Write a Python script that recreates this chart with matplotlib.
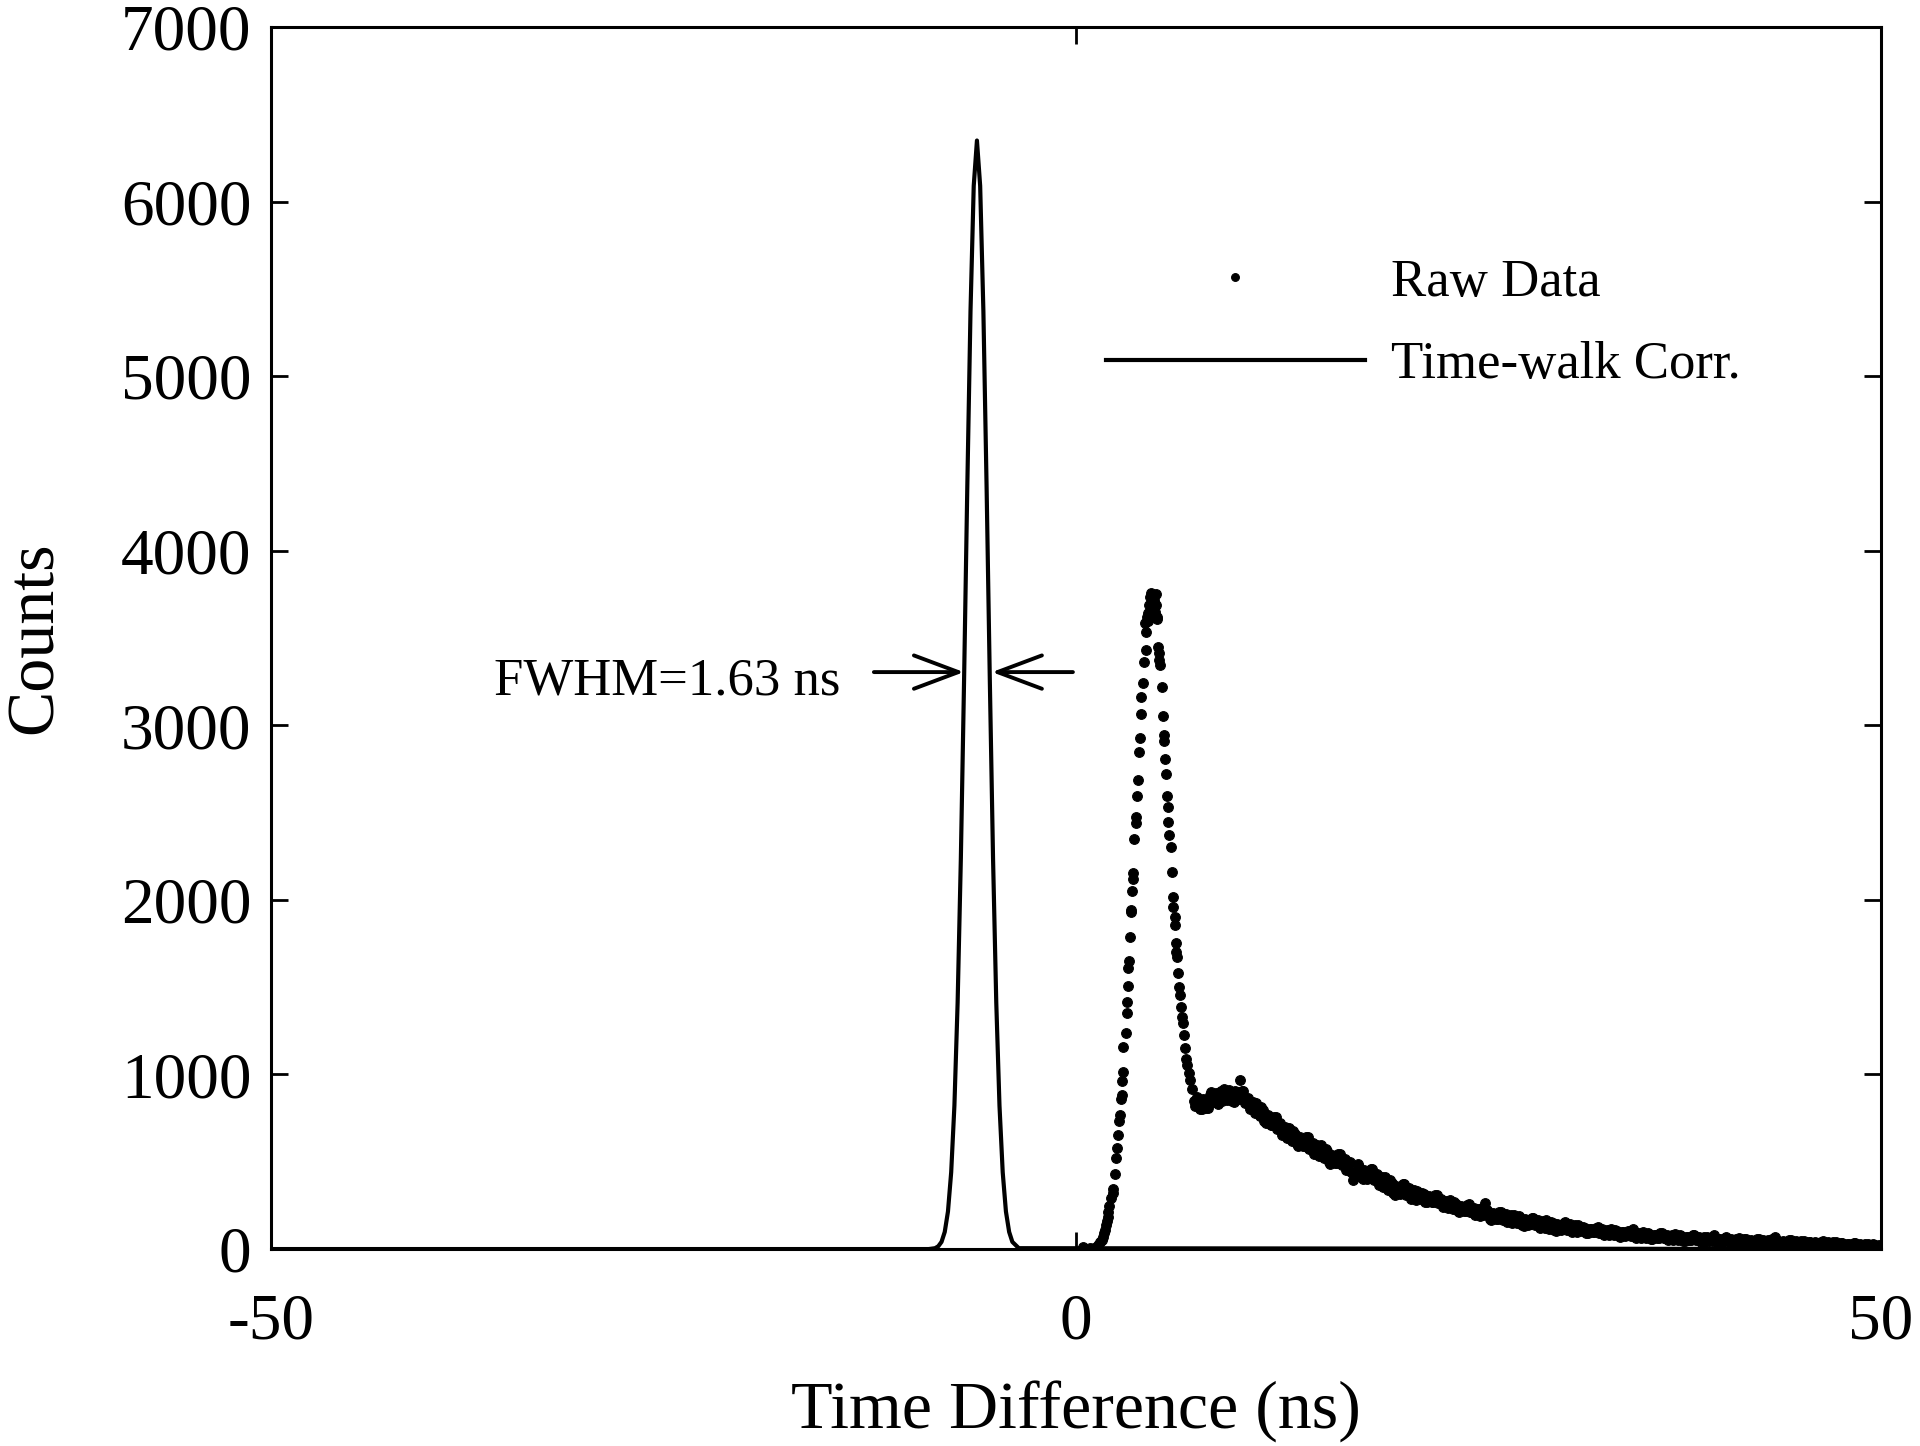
import numpy as np
import matplotlib
matplotlib.use("Agg")
import matplotlib.pyplot as plt

plt.rcParams['font.family'] = ['Liberation Serif', 'DejaVu Serif']
plt.rcParams['axes.unicode_minus'] = False

# time-walk corrected peak (ns, counts)
corr_t = [-50, -9.15, -8.75, -8.55, -8.35, -8.15, -7.95, -7.75, -7.55, -7.35, -7.15,
          -6.95, -6.75, -6.55, -6.35, -6.15, -5.95, -5.75, -5.55, -5.35, -5.15,
          -4.95, -4.75, -4.55, -4.35, -4.15, -3.95, -3.55, 50]
corr_counts = [0, 0, 5, 16, 41, 98, 215, 440, 821, 1412, 2236,
               3256, 4361, 5373, 6090, 6350, 6090, 5373, 4361, 3256, 2236,
               1412, 821, 440, 215, 98, 41, 5, 0]

# raw data, main peak (ns, counts)
peak_t = [0.45, 0.87, 1.10, 1.38, 1.50, 1.59, 1.67, 1.74, 1.80, 1.86, 1.92, 1.97,
          2.02, 2.07, 2.17, 2.28, 2.32, 2.40, 2.48, 2.57, 2.64, 2.70, 2.73, 2.80,
          2.83, 2.86, 2.89, 2.94, 3.08, 3.15, 3.18, 3.22, 3.26, 3.31, 3.35, 3.42,
          3.44, 3.50, 3.54, 3.57, 3.63, 3.71, 3.74, 3.80, 3.84, 3.89, 3.95, 4.01,
          4.07, 4.14, 4.24, 4.31, 4.33, 4.37, 4.40, 4.45, 4.50, 4.55, 4.60, 4.65,
          4.69, 4.75, 4.81, 4.85, 4.92, 4.97, 5.00, 5.03, 5.06,
          5.10, 5.14, 5.18, 5.24, 5.34, 5.42, 5.46, 5.49, 5.55, 5.59, 5.66, 5.69,
          5.73, 5.80, 5.88, 5.96, 6.00, 6.05, 6.12, 6.18, 6.21, 6.23, 6.29, 6.36,
          6.40, 6.44, 6.50, 6.58, 6.62, 6.71, 6.75, 6.83, 6.92, 7.00, 7.10]
peak_counts = [13, 4, 8, 23, 38, 52, 70, 90, 112, 137, 160, 185,
               215, 246, 290, 319, 345, 430, 520, 577, 651, 735, 768, 858,
               882, 964, 1016, 1159, 1239, 1350, 1417, 1507, 1608, 1650, 1790, 1929,
               1942, 2053, 2118, 2152, 2347, 2439, 2477, 2595, 2687, 2849, 2925, 3065,
               3161, 3241, 3364, 3584, 3431, 3536, 3620, 3600, 3641, 3690, 3737, 3760,
               3689, 3700, 3660, 3720, 3650, 3752, 3690, 3620, 3607,
               3450, 3412, 3374, 3345, 3221, 3053, 2944, 2912, 2805, 2721, 2595, 2534,
               2448, 2372, 2301, 2160, 2018, 1961, 1900, 1856, 1703, 1755, 1675, 1583,
               1503, 1455, 1388, 1330, 1296, 1226, 1150, 1087, 1054, 1006, 968]

# raw data, tail, 0.1 ns bins from 7.2 ns to 50 ns (even and odd bins)
tail_t_even = np.round(np.arange(7.2, 50.01, 0.2), 2)
tail_counts_even = [915, 820, 850, 805, 850, 810, 900, 860, 830, 905,
                    915, 855, 900, 845, 900, 968, 905, 840, 800, 845,
                    835, 760, 795, 720, 755, 710, 755, 695, 655, 700,
                    695, 620, 660, 590, 630, 590, 640, 580, 545, 595,
                    595, 520, 560, 490, 530, 492, 545, 485, 450, 500,
                    395, 430, 470, 400, 442, 405, 458, 400, 365, 415,
                    415, 340, 380, 310, 355, 320, 372, 315, 285, 340,
                    335, 284, 314, 267, 297, 271, 308, 265, 241, 278,
                    280, 229, 259, 212, 243, 218, 256, 215, 193, 232,
                    235, 262, 214, 168, 199, 174, 213, 174, 153, 193,
                    197, 147, 179, 134, 165, 141, 180, 141, 120, 160,
                    165, 116, 149, 104, 137, 114, 154, 117, 97, 138,
                    136, 101, 123, 90, 113, 96, 124, 97, 82, 110,
                    115, 80, 103, 71, 95, 78, 106, 115, 66, 94,
                    99, 64, 88, 56, 80, 64, 92, 66, 52, 81,
                    86, 52, 76, 44, 68, 52, 81, 55, 41, 70,
                    71, 44, 80, 38, 57, 44, 67, 46, 36, 59,
                    62, 35, 55, 30, 49, 37, 60, 39, 29, 52,
                    56, 70, 48, 24, 43, 30, 54, 33, 22, 46,
                    45, 26, 40, 21, 36, 26, 44, 28, 20, 38,
                    39, 19, 34, 15, 29, 19, 36, 20, 12, 29,
                    30, 10, 24, 5, 19]
tail_t_odd = np.round(np.arange(7.3, 49.91, 0.2), 2)
tail_counts_odd = [850, 870, 803, 857, 810, 880, 845, 893, 877, 850,
                   867, 912, 847, 903, 860, 907, 838, 867, 833, 780,
                   780, 812, 733, 767, 713, 757, 690, 723, 687, 638,
                   640, 675, 600, 640, 590, 640, 575, 610, 580, 535,
                   540, 575, 500, 540, 491, 543, 480, 515, 485, 441,
                   449, 485, 410, 451, 403, 456, 394, 430, 400, 355,
                   360, 395, 320, 362, 317, 371, 308, 347, 323, 282,
                   297, 323, 272, 302, 269, 307, 262, 287, 267, 236,
                   242, 268, 217, 248, 216, 255, 211, 238, 220, 191,
                   197, 223, 173, 204, 172, 211, 169, 198, 180, 152,
                   160, 187, 138, 170, 138, 178, 136, 164, 147, 120,
                   128, 157, 108, 141, 111, 152, 111, 141, 125, 98,
                   109, 129, 93, 117, 95, 123, 93, 113, 101, 82,
                   88, 109, 74, 98, 77, 105, 75, 96, 85, 66,
                   72, 93, 59, 83, 62, 91, 61, 82, 71, 53,
                   59, 81, 47, 71, 50, 79, 50, 71, 60, 42,
                   50, 67, 40, 59, 42, 65, 42, 60, 51, 36,
                   41, 59, 32, 51, 35, 58, 35, 53, 44, 30,
                   35, 52, 26, 45, 28, 52, 29, 46, 38, 23,
                   30, 43, 23, 38, 24, 42, 25, 38, 32, 20,
                   23, 37, 17, 31, 17, 34, 17, 30, 23, 11,
                   14, 27, 7, 21]

raw_t = np.concatenate([peak_t, tail_t_even, tail_t_odd])
raw_counts = np.concatenate([peak_counts, tail_counts_even, tail_counts_odd])

fig = plt.figure(figsize=(19.2, 14.46), dpi=100)
ax = fig.add_axes([0.1411, 0.1362, 0.8386, 0.8451])

ax.plot(raw_t, raw_counts, 'o', color='black', ms=7, mew=0.8, label='Raw Data')
ax.plot(corr_t, corr_counts, '-', color='black', lw=3, label='Time-walk Corr.')

ax.set_xlim(-50, 50)
ax.set_ylim(0, 7000)
ax.set_xticks([-50, 0, 50])
ax.set_yticks(range(0, 7001, 1000))
ax.tick_params(direction='in', length=12, width=2, top=True, right=True,
               labelsize=47)
ax.tick_params(axis='x', pad=32)
ax.tick_params(axis='y', pad=14)
for s in ax.spines.values():
    s.set_linewidth(2.2)

ax.set_xlabel('Time Difference (ns)', fontsize=49, labelpad=20)
ax.set_ylabel('Counts', fontsize=49, labelpad=40)

ax.annotate('', xy=(-6.96, 3305), xytext=(-12.55, 3305),
            arrowprops=dict(arrowstyle='->,head_length=0.8,head_width=0.3',
                            lw=2.8, color='black', mutation_scale=40,
                            shrinkA=0, shrinkB=0))
ax.annotate('', xy=(-5.22, 3305), xytext=(-0.19, 3305),
            arrowprops=dict(arrowstyle='->,head_length=0.8,head_width=0.3',
                            lw=2.8, color='black', mutation_scale=40,
                            shrinkA=0, shrinkB=0))
ax.text(-14.66, 3250, 'FWHM=1.63 ns', ha='right', va='center', fontsize=38)

ax.legend(loc='center left', bbox_to_anchor=(0.5186, 0.757), frameon=False,
          fontsize=38, handlelength=4.9, handletextpad=0.5, labelspacing=0.65,
          borderpad=0, borderaxespad=0, markerscale=0.8)

fig.savefig('out.png', dpi=100)
